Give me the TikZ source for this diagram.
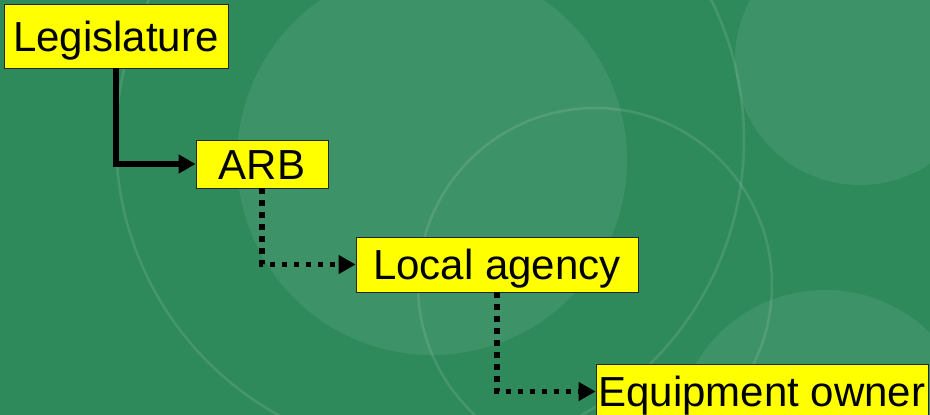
\documentclass[tikz,border=0pt]{standalone}
\usepackage{fontspec}
\setmainfont{Liberation Sans}
\usetikzlibrary{arrows.meta}
\definecolor{boardgreen}{RGB}{47,138,91}
\definecolor{boxyellow}{RGB}{255,255,0}
\tikzset{
    stage/.style = {draw=black!85, line width=0.8pt, fill=boxyellow, inner sep=0pt,
        text height=30pt, text depth=0pt, font=\fontsize{42}{48}\selectfont},
    glow/.style = {fill=white, fill opacity=0.075},
    ring/.style = {draw=white, draw opacity=0.11, line width=2.5pt},
    firm/.style = {draw, line width=5.5pt, -{Triangle[length=17pt, width=18pt]}},
    loose/.style = {draw, line width=5.5pt, dash pattern=on 5.5pt off 6.5pt,
        -{Triangle[length=17pt, width=18pt]}},
}

\begin{document}
\begin{tikzpicture}[x=1pt, y=-1pt]
            \fill[boardgreen] (0, 0) rectangle (930, 415);
            \useasboundingbox (0, 0) rectangle (930, 415);
            \begin{scope}
                \clip (0, 0) rectangle (930, 415);
                \fill[glow] (432, 160) circle (195);
                \fill[glow] (860, 60) circle (125);
                \fill[glow] (825, 440) circle (150);
                \draw[ring] (430, 140) circle (314);
                \draw[ring] (595, 285) circle (177);
            \end{scope}

            \node[stage, minimum width=224pt, minimum height=64pt] (leg) at (116, 36) {Legislature};
            \node[stage, minimum width=132pt, minimum height=48pt] (arb) at (262, 164) {ARB};
            \node[stage, minimum width=282pt, minimum height=55pt] (local) at (497, 264.5) {Local agency};
            \node[stage, minimum width=332pt, minimum height=55pt] (owner) at (762, 391.5) {Equipment owner};

            \draw[firm] (leg.south) |- (arb.west);
            \draw[loose] (arb.south) |- (local.west);
            \draw[loose] (local.south) |- (owner.west);
        \end{tikzpicture}
\end{document}
